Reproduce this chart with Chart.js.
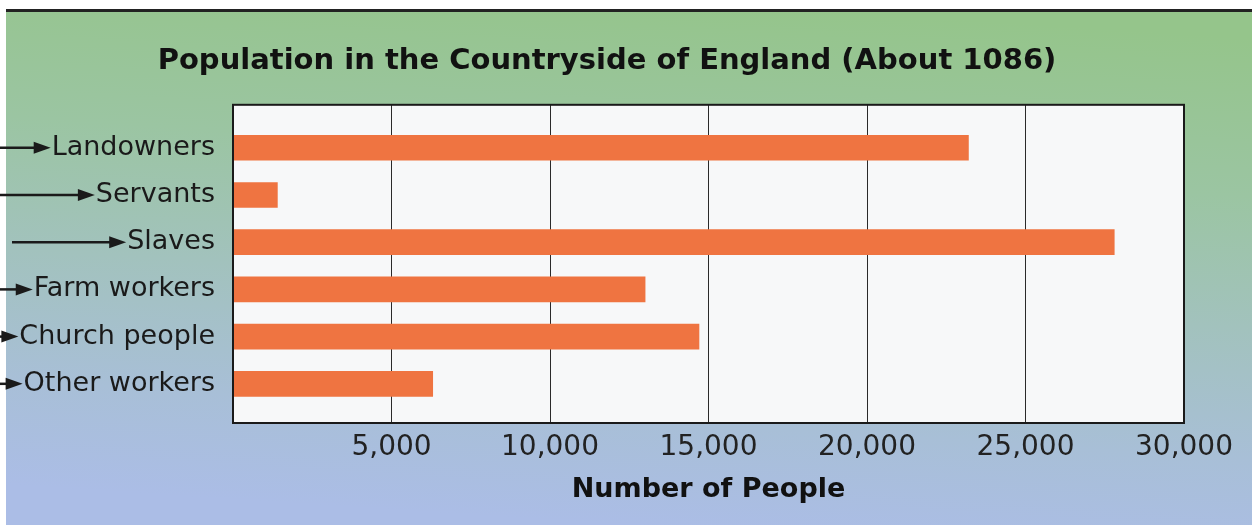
<!DOCTYPE html>
<html>
<head>
<meta charset="utf-8">
<script src="https://cdn.jsdelivr.net/npm/chart.js@4.4.1/dist/chart.umd.min.js"></script>
<style>
  body { margin: 0; background: #fff; }
  canvas { display: block; }
</style>
</head>
<body>
<canvas id="popChart" width="1252" height="525"></canvas>
<script>
const categories = ["Landowners", "Servants", "Slaves", "Farm workers", "Church people", "Other workers"];
const people = [23200, 1400, 27800, 13000, 14700, 6300];
const xTicks = [0, 5000, 10000, 15000, 20000, 25000, 30000];

const ctx = document.getElementById("popChart");

// page background: faded green to blue print, white edge + dark rule at top
const backdrop = {
  id: "backdrop",
  beforeDraw(chart) {
    const c = chart.ctx;
    const w = chart.width, h = chart.height;
    c.save();
    c.fillStyle = "#ffffff";
    c.fillRect(0, 0, w, h);
    const g = c.createLinearGradient(660, 0, 626, h);
    g.addColorStop(0, "#95c58b");
    g.addColorStop(0.3, "#9bc5a2");
    g.addColorStop(0.55, "#a2c2bd");
    g.addColorStop(0.8, "#a8bfd7");
    g.addColorStop(1, "#abbde6");
    c.fillStyle = g;
    c.fillRect(6, 11, w - 6, h - 11);
    c.fillStyle = "#222";
    c.fillRect(6, 9, w - 6, 3);
    // plot panel
    const a = chart.chartArea;
    c.fillStyle = "#f7f8f9";
    c.fillRect(a.left, a.top, a.right - a.left, a.bottom - a.top);
    c.restore();
  },
  afterDraw(chart) {
    const c = chart.ctx;
    const a = chart.chartArea;
    c.save();
    c.strokeStyle = "#1a1a1a";
    c.lineWidth = 2;
    c.strokeRect(a.left, a.top, a.right - a.left, a.bottom - a.top);

    // arrows pointing at the category labels
    const y = chart.scales.y;
    c.font = "27px 'DejaVu Sans'";
    c.fillStyle = "#1a1a1a";
    c.lineWidth = 2.5;
    categories.forEach(function (name, i) {
      const py = y.getPixelForValue(i);
      const textLeft = y.right - 18 - c.measureText(name).width;
      const startX = name === "Slaves" ? 12 : 0;
      const tip = textLeft - 1;
      c.beginPath();
      c.moveTo(startX, py);
      c.lineTo(tip - 12, py);
      c.stroke();
      c.beginPath();
      c.moveTo(tip, py);
      c.lineTo(tip - 17, py - 6);
      c.lineTo(tip - 17, py + 6);
      c.closePath();
      c.fill();
    });
    c.restore();
  },
};

const popChart = new Chart(ctx, {
  type: "bar",
  data: {
    datasets: [
      {
        data: people.map(function (v, i) {
          return { x: v, y: i };
        }),
        backgroundColor: "#ef7441",
        barThickness: 25,
      },
    ],
  },
  options: {
    indexAxis: "y",
    responsive: false,
    maintainAspectRatio: false,
    animation: false,
    layout: {
      padding: { left: 0, right: 38, top: 0, bottom: 19 },
    },
    scales: {
      x: {
        type: "linear",
        min: 0,
        max: 30000,
        afterBuildTicks: function (scale) {
          scale.ticks = xTicks.map(function (v) {
            return { value: v };
          });
        },
        afterFit: function (scale) {
          scale.paddingRight = 68;
        },
        grid: {
          color: "#2a2a2a",
          lineWidth: 1,
          drawTicks: false,
        },
        border: { display: false },
        ticks: {
          padding: 8,
          color: "#222",
          font: { family: "'DejaVu Sans'", size: 28 },
          callback: function (value) {
            return value === 0 ? "" : value.toLocaleString("en-US");
          },
        },
        title: {
          display: true,
          text: "Number of People",
          color: "#111",
          font: { family: "'DejaVu Sans'", size: 27, weight: "bold" },
          padding: { top: 1, bottom: 0 },
        },
      },
      y: {
        type: "linear",
        reverse: true,
        offset: false,
        min: -0.91,
        max: 5.83,
        afterBuildTicks: function (scale) {
          scale.ticks = categories.map(function (c, i) {
            return { value: i };
          });
        },
        afterFit: function (scale) {
          scale.width = 233;
        },
        grid: { display: false, drawTicks: false, offset: false },
        border: { display: false },
        ticks: {
          autoSkip: false,
          padding: 18,
          color: "#1a1a1a",
          font: { family: "'DejaVu Sans'", size: 27 },
          callback: function (value) {
            return categories[value];
          },
        },
      },
    },
    plugins: {
      legend: { display: false },
      tooltip: { enabled: false },
      title: {
        display: true,
        text: "Population in the Countryside of England (About 1086)",
        color: "#111",
        font: { family: "'DejaVu Sans'", size: 29, weight: "bold" },
        padding: { top: 44, bottom: 26 },
      },
    },
  },
  plugins: [backdrop],
});
</script>
</body>
</html>
